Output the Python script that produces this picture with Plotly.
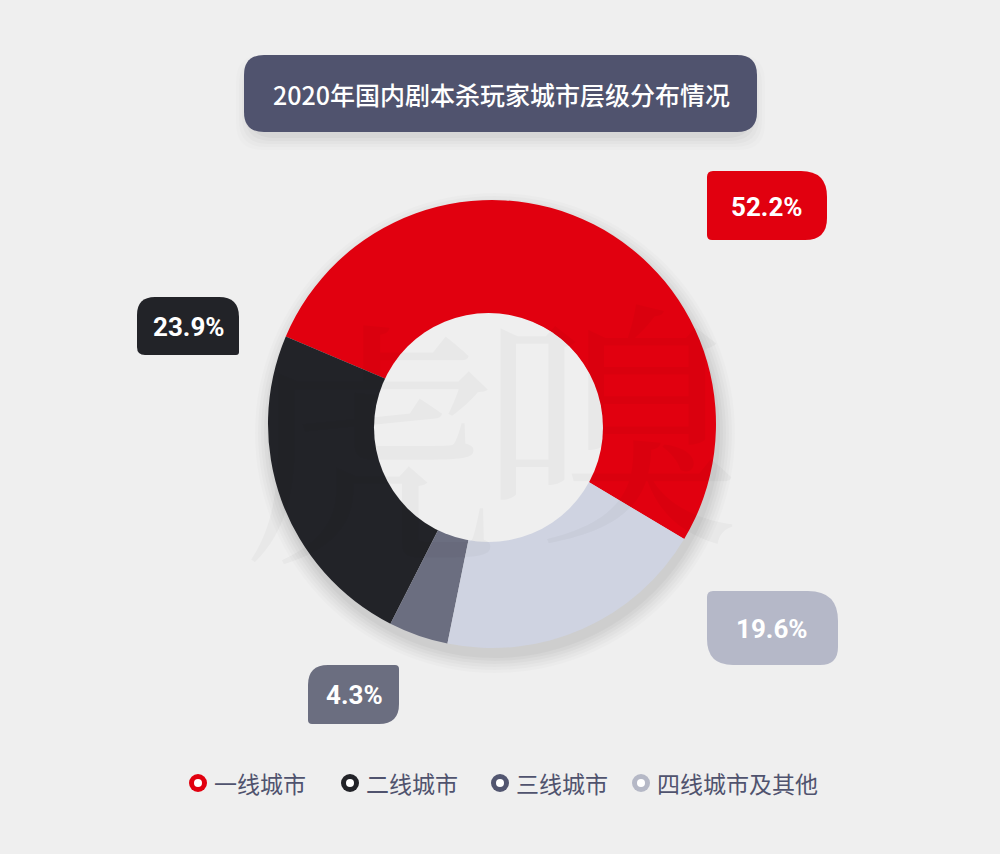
import plotly.graph_objects as go

# ---------------- data ----------------
categories = ["一线城市", "二线城市", "三线城市", "四线城市及其他"]
shares = [52.2, 23.9, 4.3, 19.6]
slice_colors = ["#e1000f", "#222328", "#6b6e80", "#cfd3e1"]
legend_colors = ["#e1000f", "#222328", "#525670", "#b5b8c6"]
label_box_colors = ["#e1000f", "#222328", "#6b6e80", "#b5b8c8"]
title_text = "2020年国内剧本杀玩家城市层级分布情况"

W, H = 1000, 854
BG = "#efefef"


def px(x):
    return x / W


def py(y):
    return 1 - y / H


def rrect(x0, y0, x1, y1, rtl, rtr, rbr, rbl):
    """Rounded rectangle path in paper coords from pixel coords (y down)."""
    pts = [
        f"M{px(x0 + rtl)},{py(y0)}",
        f"L{px(x1 - rtr)},{py(y0)}",
        f"Q{px(x1)},{py(y0)} {px(x1)},{py(y0 + rtr)}",
        f"L{px(x1)},{py(y1 - rbr)}",
        f"Q{px(x1)},{py(y1)} {px(x1 - rbr)},{py(y1)}",
        f"L{px(x0 + rbl)},{py(y1)}",
        f"Q{px(x0)},{py(y1)} {px(x0)},{py(y1 - rbl)}",
        f"L{px(x0)},{py(y0 + rtl)}",
        f"Q{px(x0)},{py(y0)} {px(x0 + rtl)},{py(y0)}",
        "Z",
    ]
    return " ".join(pts)


# pie geometry (pixels)
cx, cy, R = 492, 424, 224
HOLE = 0.488
hx, hy, hr = 488.5, 427.5, 114.5   # visible (slightly offset) hole

fig = go.Figure()
fig.add_trace(
    go.Pie(
        labels=categories,
        values=shares,
        sort=False,
        direction="counterclockwise",
        rotation=293,
        hole=HOLE,
        marker=dict(colors=slice_colors, line=dict(width=0)),
        textinfo="none",
        hoverinfo="label+percent",
        showlegend=False,
        domain=dict(x=[px(cx - R), px(cx + R)], y=[py(cy + R), py(cy - R)]),
    )
)

shapes = []
annotations = []

# soft shadow under the donut
for k, a in enumerate([0.015, 0.018, 0.02, 0.022, 0.025, 0.03]):
    rr = R + 16 - 3 * k
    ox, oy = 3, 9
    shapes.append(
        dict(
            type="circle", xref="paper", yref="paper", layer="below",
            x0=px(cx + ox - rr), x1=px(cx + ox + rr),
            y0=py(cy + oy + rr), y1=py(cy + oy - rr),
            fillcolor=f"rgba(0,0,0,{a})", line=dict(width=0),
        )
    )

# hole filled with background
shapes.append(
    dict(
        type="circle", xref="paper", yref="paper", layer="above",
        x0=px(hx - hr), x1=px(hx + hr), y0=py(hy + hr), y1=py(hy - hr),
        fillcolor=BG, line=dict(width=0),
    )
)

# title box soft shadow + box
for k, a in enumerate([0.012, 0.016, 0.02, 0.025, 0.03]):
    g = 14 - 3 * k
    shapes.append(
        dict(
            type="path", xref="paper", yref="paper", layer="below",
            path=rrect(244 - g + 6, 55 - g + 14, 757 + g - 6, 132 + g + 4, 26, 26, 26, 26),
            fillcolor=f"rgba(0,0,0,{a})", line=dict(width=0),
        )
    )
shapes.append(
    dict(
        type="path", xref="paper", yref="paper", layer="below",
        path=rrect(244, 55, 757, 132, 20, 20, 20, 20),
        fillcolor="#50536e", line=dict(width=0),
    )
)
annotations.append(
    dict(
        x=px(501), y=py(94), xref="paper", yref="paper", showarrow=False,
        text=title_text, xanchor="center", yanchor="middle",
        font=dict(family="Noto Sans CJK SC", size=25, color="#ffffff", weight=500),
    )
)

# percentage label boxes: (x0, y0, x1, y1, r_tl, r_tr, r_br, r_bl, text_x, text_y)
label_boxes = [
    (707, 171, 827, 240, 6, 26, 22, 5, 767, 207),
    (137, 297, 239, 355, 18, 20, 3, 8, 189, 327),
    (308, 665, 399, 724, 20, 4, 20, 4, 354, 695),
    (707, 591, 838, 665, 6, 30, 18, 26, 772, 629),
]
for i, (x0, y0, x1, y1, a, b, c, d, tx, ty) in enumerate(label_boxes):
    shapes.append(
        dict(
            type="path", xref="paper", yref="paper", layer="below",
            path=rrect(x0, y0, x1, y1, a, b, c, d),
            fillcolor=label_box_colors[i], line=dict(width=0),
        )
    )
    annotations.append(
        dict(
            x=px(tx), y=py(ty), xref="paper", yref="paper", showarrow=False,
            text=f"<b>{shares[i]:.1f}%</b>", xanchor="center", yanchor="middle",
            font=dict(family="Roboto", size=26, color="#ffffff"),
        )
    )

# faint watermark
for ch, wx, wy in [("虎", 370, 430), ("嗅", 610, 410)]:
    annotations.append(
        dict(
            x=px(wx), y=py(wy), xref="paper", yref="paper", showarrow=False,
            text=ch, xanchor="center", yanchor="middle",
            font=dict(family="Noto Serif CJK SC, Noto Sans CJK SC", size=260,
                      color="rgba(0,0,0,0.028)"),
        )
    )

# custom legend with ring markers
legend_x = [198, 350, 500, 641]
legend_y = 783
for i, cat in enumerate(categories):
    lx = legend_x[i]
    ro, ri = 9, 4
    shapes.append(
        dict(
            type="circle", xref="paper", yref="paper",
            x0=px(lx - ro), x1=px(lx + ro), y0=py(legend_y + ro), y1=py(legend_y - ro),
            fillcolor=legend_colors[i], line=dict(width=0),
        )
    )
    shapes.append(
        dict(
            type="circle", xref="paper", yref="paper",
            x0=px(lx - ri), x1=px(lx + ri), y0=py(legend_y + ri), y1=py(legend_y - ri),
            fillcolor="#ffffff", line=dict(width=0),
        )
    )
    annotations.append(
        dict(
            x=px(lx + 14), y=py(legend_y), xref="paper", yref="paper", showarrow=False,
            text=cat, xanchor="left", yanchor="middle",
            font=dict(family="Noto Sans CJK SC", size=23, color="#50536e"),
        )
    )

fig.update_layout(
    width=W,
    height=H,
    margin=dict(l=0, r=0, t=0, b=0),
    paper_bgcolor=BG,
    plot_bgcolor=BG,
    shapes=shapes,
    annotations=annotations,
    showlegend=False,
)

fig.write_html("out.html")
